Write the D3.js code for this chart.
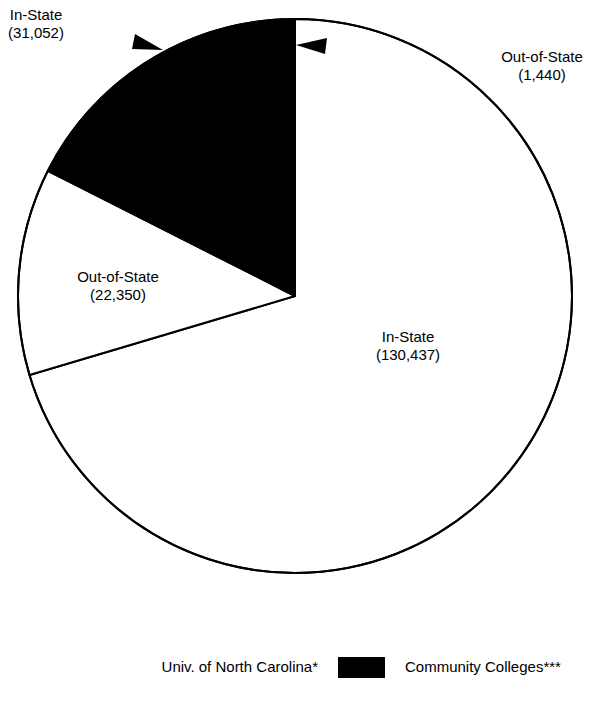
<!DOCTYPE html>
<html><head><meta charset="utf-8">
<script src="https://cdn.jsdelivr.net/npm/d3@7"></script>
<style>body{margin:0;background:#fff}svg{display:block}text{font-family:"Liberation Sans",Arial,Helvetica,sans-serif;fill:#000}</style>
</head><body>
<svg id="c" width="616" height="707"></svg>
<script>
// Data
const sliceNames = ["In-State", "Out-of-State", "In-State", "Out-of-State"];
const sliceGroups = ["Univ. of North Carolina*", "Univ. of North Carolina*", "Community Colleges***", "Community Colleges***"];
const sliceValues = [130437, 22350, 31052, 1440];
const groupNames = ["Univ. of North Carolina*", "Community Colleges***"];
const groupColors = ["#ffffff", "#000000"];

const svg = d3.select("#c");
const cx = 295, cy = 296, r = 277;
const color = d3.scaleOrdinal().domain(groupNames).range(groupColors);
const fmt = d3.format(",");

const data = sliceValues.map((v, i) => ({name: sliceNames[i], group: sliceGroups[i], value: v}));
const pie = d3.pie().sort(null).value(d => d.value).startAngle(0).endAngle(2 * Math.PI);
const arcs = pie(data);
const arc = d3.arc().innerRadius(0).outerRadius(r);

const g = svg.append("g").attr("transform", `translate(${cx},${cy})`);
g.selectAll("path").data(arcs).join("path")
  .attr("d", arc)
  .attr("fill", d => color(d.data.group))
  .attr("stroke", "#000")
  .attr("stroke-width", 2)
  .attr("stroke-linejoin", "round");
g.append("circle").attr("r", r).attr("fill", "none").attr("stroke", "#000").attr("stroke-width", 2);

// labels (positions in px)
const labelPos = [[408, 342], [118, 282], [36, 20], [542, 62]];
arcs.forEach((a, i) => {
  const t = svg.append("text").attr("text-anchor", "middle").attr("font-size", 15);
  t.append("tspan").attr("x", labelPos[i][0]).attr("y", labelPos[i][1]).text(a.data.name);
  t.append("tspan").attr("x", labelPos[i][0]).attr("y", labelPos[i][1] + 18).text("(" + fmt(a.data.value) + ")");
});

// arrows
svg.append("path").attr("d", "M135,34 L132,49 L163,50 Z").attr("fill", "#000");
svg.append("path").attr("d", "M296,45 L327,38 L325,54 Z").attr("fill", "#000");

// legend
const lg = svg.append("g");
lg.append("text").attr("x", 318).attr("y", 672).attr("text-anchor", "end").attr("font-size", 15).text(groupNames[0]);
lg.append("rect").attr("x", 338).attr("y", 657).attr("width", 47).attr("height", 21).attr("fill", color(groupNames[1]));
lg.append("text").attr("x", 405).attr("y", 672).attr("font-size", 15).text(groupNames[1]);
</script>
</body></html>
